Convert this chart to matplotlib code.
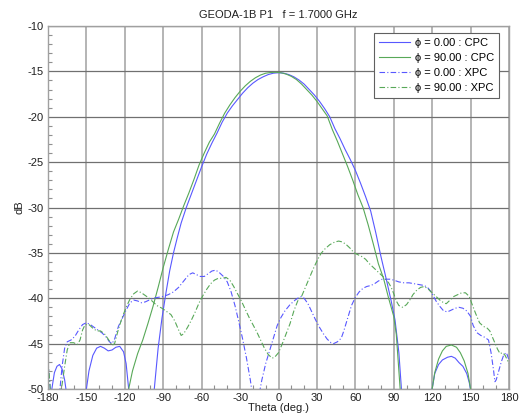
import matplotlib
matplotlib.use("Agg")
import matplotlib.pyplot as plt
from matplotlib.ticker import MultipleLocator

plt.rcParams['font.family'] = ['Liberation Sans', 'DejaVu Sans']
plt.rcParams['axes.unicode_minus'] = False

title = "GEODA-1B P1   f = 1.7000 GHz"
xlabel = "Theta (deg.)"
ylabel = "dB"
labels = ["ϕ = 0.00 : CPC", "ϕ = 90.00 : CPC", "ϕ = 0.00 : XPC", "ϕ = 90.00 : XPC"]

# phi = 0 CPC
th_cpc0 = [-180, -179, -177, -175, -173, -171, -169, -167, -166, -164, -158, -152, -150, -148, -145, -142, -139,
           -136, -133, -130, -127, -124, -121, -119, -117, -115, -108, -99, -97, -94, -91, -88, -85, -82, -79,
           -76, -72, -68, -64, -60, -56, -52, -48, -44, -40, -36, -32, -28, -24, -20, -16, -12, -8, -4, 0,
           4, 8, 12, 16, 20, 24, 28, 32, 36, 40, 44, 48, 52, 56, 60, 64, 68, 72, 76, 80, 84, 88, 91, 94,
           96, 98, 108, 118, 120, 122, 125, 128, 132, 135, 138, 141, 144, 147, 149, 151, 153, 165, 180]
db_cpc0 = [-60, -56, -50, -48.2, -47.5, -47.3, -47.8, -49.0, -50, -53, -60, -53, -50, -48.0, -46.3, -45.5, -45.3,
           -45.5, -45.8, -45.7, -45.4, -45.3, -45.9, -47.2, -50, -53, -60, -54, -50, -45.5, -42.2, -39.5, -37.0,
           -35.0, -33.3, -31.7, -30.0, -28.5, -27.0, -25.5, -24.1, -22.9, -21.8, -20.6, -19.6, -18.8, -18.1,
           -17.4, -16.8, -16.3, -15.9, -15.6, -15.35, -15.2, -15.15, -15.2, -15.35, -15.6, -15.95, -16.4, -17.0,
           -17.6, -18.3, -19.1, -20.0, -21.3, -22.4, -23.6, -24.7, -25.9, -27.3, -28.8, -30.4, -32.8, -35.4,
           -37.8, -40.3, -42.4, -46.0, -50.0, -54, -60, -53, -50, -48.3, -47.3, -46.8, -46.5, -46.4, -46.6,
           -47.1, -47.5, -48.3, -49.3, -51, -54, -62, -62]

# phi = 90 CPC
th_cpc90 = [-180, -150, -130, -119, -117, -114, -110, -106, -102, -98, -94, -90, -86, -82, -78, -74, -70, -66,
            -62, -58, -54, -50, -46, -42, -38, -34, -30, -26, -22, -18, -14, -10, -6, -2, 2, 6, 10, 14, 18,
            22, 26, 30, 34, 38, 42, 46, 50, 54, 58, 62, 66, 70, 74, 78, 82, 86, 90, 92, 95, 97, 108, 118, 120,
            122, 125, 128, 131, 135, 139, 142, 145, 148, 150, 152, 165, 180]
db_cpc90 = [-62, -62, -60, -53, -50, -48.0, -46.1, -44.6, -42.8, -40.9, -38.8, -36.6, -34.6, -32.7, -31.3,
            -29.8, -28.4, -26.9, -25.3, -24.0, -22.8, -21.9, -20.7, -19.6, -18.7, -17.9, -17.2, -16.6, -16.1,
            -15.7, -15.4, -15.2, -15.12, -15.1, -15.15, -15.3, -15.55, -15.9, -16.4, -17.0, -17.6, -18.3,
            -19.1, -19.9, -21.4, -22.7, -24.1, -25.5, -27.0, -28.6, -30.0, -31.9, -34.0, -36.2, -37.8, -40.0,
            -42.0, -44.0, -50, -54, -60, -53, -50, -48.2, -46.7, -45.8, -45.3, -45.15, -45.4, -46.0, -46.9,
            -48.3, -50, -53, -62, -62]

# phi = 0 XPC
th_xpc0 = [-180, -179, -178, -176, -173, -171, -169, -167, -165, -162, -159, -156, -153, -150, -147, -144, -141,
           -138, -135, -132, -130, -128, -125, -122, -119, -116, -113, -110, -107, -104, -101, -98, -94, -90,
           -86, -82, -78, -74, -70, -67, -64, -61, -58, -55, -52, -49, -46, -43, -40, -37, -34, -31, -28, -25,
           -22, -20, -18, -15, -13, -10, -7, -4, -1, 2, 5, 9, 13, 16, 18, 20, 23, 26, 29, 32, 35, 38, 41, 43,
           46, 49, 51, 54, 57, 60, 63, 66, 69, 72, 75, 78, 81, 84, 87, 90, 94, 98, 102, 106, 110, 114, 117,
           120, 123, 126, 129, 132, 135, 138, 141, 144, 147, 150, 152, 155, 158, 161, 164, 166, 168, 169, 170,
           172, 174, 176, 178, 180]
db_xpc0 = [-47.0, -48.5, -50.5, -54, -53, -50.5, -47.5, -45.5, -44.8, -44.6, -44.2, -43.5, -42.9, -42.7, -42.9,
           -43.2, -43.5, -43.8, -44.2, -44.8, -45.0, -44.5, -43.1, -42.2, -41.3, -40.5, -40.2, -40.3, -40.5,
           -40.4, -40.2, -40.0, -39.9, -39.8, -39.6, -39.3, -38.8, -38.1, -37.4, -37.2, -37.4, -37.6, -37.6,
           -37.3, -37.0, -36.9, -37.2, -37.6, -38.2, -39.3, -40.8, -42.6, -44.5, -46.6, -49.0, -51, -52,
           -50.5, -49.0, -47.2, -45.8, -44.4, -43.0, -42.1, -41.4, -40.7, -40.2, -39.9, -39.8, -40.0, -40.6,
           -41.5, -42.4, -43.2, -43.9, -44.5, -44.9, -45.0, -44.8, -44.4, -43.6, -42.2, -40.8, -39.9, -39.3,
           -38.9, -38.7, -38.6, -38.4, -38.1, -37.9, -37.9, -37.9, -38.0, -38.2, -38.3, -38.3, -38.4, -38.5,
           -38.6, -38.9, -39.5, -40.3, -40.9, -41.4, -41.5, -41.3, -41.1, -41.0, -41.1, -41.4, -42.0, -43.0,
           -43.8, -44.1, -44.3, -44.6, -46.0, -48.0, -49.2, -49.0, -48.0, -47.0, -46.2, -46.0, -46.8]

# phi = 90 XPC
th_xpc90 = [-180, -179, -178, -176, -173, -171, -169, -167, -165, -163, -160, -157, -155, -153, -151, -148, -145,
            -142, -139, -136, -133, -130, -128, -125, -122, -119, -116, -113, -110, -107, -104, -101, -98, -95,
            -91, -87, -84, -81, -78, -76, -74, -71, -68, -65, -62, -59, -56, -53, -50, -47, -44, -41, -38, -35,
            -32, -29, -26, -23, -20, -17, -14, -11, -8, -5, -3, 0, 3, 6, 9, 12, 15, 18, 21, 24, 27, 30, 33, 36,
            40, 44, 47, 50, 53, 56, 59, 62, 65, 68, 71, 74, 77, 80, 83, 86, 88, 90, 92, 94, 97, 100, 103, 105,
            108, 111, 114, 117, 120, 123, 126, 129, 131, 134, 137, 140, 143, 146, 149, 151, 154, 157, 160, 163,
            165, 168, 171, 173, 175, 177, 180]
db_xpc90 = [-47.0, -48.5, -50.5, -53, -53, -51, -49.5, -47.5, -45.7, -44.9, -44.9, -45.1, -44.6, -43.5, -42.9,
            -42.9, -43.3, -43.6, -43.6, -43.9, -44.5, -45.2, -45.0, -43.4, -42.1, -41.0, -40.1, -39.5, -39.2,
            -39.4, -39.7, -40.0, -40.4, -40.8, -41.1, -41.5, -41.8, -42.5, -43.5, -44.1, -43.9, -43.2, -42.4,
            -41.5, -40.5, -39.7, -39.0, -38.4, -38.0, -37.8, -37.8, -37.7, -38.0, -38.7, -39.5, -40.3, -41.2,
            -42.1, -42.9, -43.7, -44.6, -45.5, -46.2, -46.6, -46.5, -46.0, -45.0, -43.9, -42.8, -41.4, -40.3,
            -39.8, -38.8, -37.8, -36.8, -35.9, -35.1, -34.6, -34.1, -33.8, -33.7, -33.8, -34.1, -34.5, -35.0,
            -35.2, -35.4, -35.7, -36.2, -36.6, -37.0, -37.4, -37.8, -38.3, -38.8, -39.5, -40.3, -40.8, -41.0,
            -40.7, -40.1, -39.6, -39.1, -38.8, -38.7, -39.0, -39.4, -39.8, -40.2, -40.5, -40.6, -40.2, -39.8,
            -39.6, -39.4, -39.4, -39.8, -40.6, -41.7, -42.7, -43.1, -43.3, -43.6, -44.6, -45.6, -46.1, -46.0,
            -46.3, -47.2]

x_ticks = list(range(-180, 181, 30))
y_ticks = list(range(-50, -9, 5))

blue = '#5858ff'
green = '#58a858'
dashdot = (0, (5, 2, 1, 2))

fig = plt.figure(figsize=(5.23, 4.18), dpi=100)
ax = fig.add_axes([48 / 523, 1 - 389 / 418, 461 / 523, 363 / 418])

ax.plot(th_cpc0, db_cpc0, color=blue, lw=0.8, label=labels[0])
ax.plot(th_cpc90, db_cpc90, color=green, lw=0.8, label=labels[1])
ax.plot(th_xpc0, db_xpc0, color=blue, lw=0.8, ls=dashdot, label=labels[2])
ax.plot(th_xpc90, db_xpc90, color=green, lw=0.8, ls=dashdot, label=labels[3])

ax.set_xlim(-180, 180)
ax.set_ylim(-50, -10)
ax.set_xticks(x_ticks)
ax.set_yticks(y_ticks)
ax.xaxis.set_minor_locator(MultipleLocator(10))
ax.yaxis.set_minor_locator(MultipleLocator(1))
ax.tick_params(which='major', direction='in', length=0, labelsize=8, pad=3, labelcolor='#202020')
ax.tick_params(which='minor', direction='in', length=3, color='#909090', width=0.8)
ax.xaxis.grid(True, color='#b4b4b4', lw=1.4)
ax.yaxis.grid(True, color='#707070', lw=0.9)
ax.set_axisbelow(True)
for s in ax.spines.values():
    s.set_color('#a0a0a0')
    s.set_linewidth(1.0)

ax.set_title(title, fontsize=8, pad=6, color='#202020')
ax.set_xlabel(xlabel, fontsize=8, labelpad=0, color='#202020')
ax.set_ylabel(ylabel, fontsize=8, labelpad=2, color='#202020')

leg = ax.legend(loc='upper right', bbox_to_anchor=(1 - 10 / 461, 1 - 7 / 363), borderaxespad=0,
                fontsize=8, fancybox=False, framealpha=1, edgecolor='#606060',
                handlelength=2.8, handletextpad=0.4, labelspacing=0.45, borderpad=0.45)
leg.get_frame().set_linewidth(0.8)

fig.savefig('out.png', dpi=100)
